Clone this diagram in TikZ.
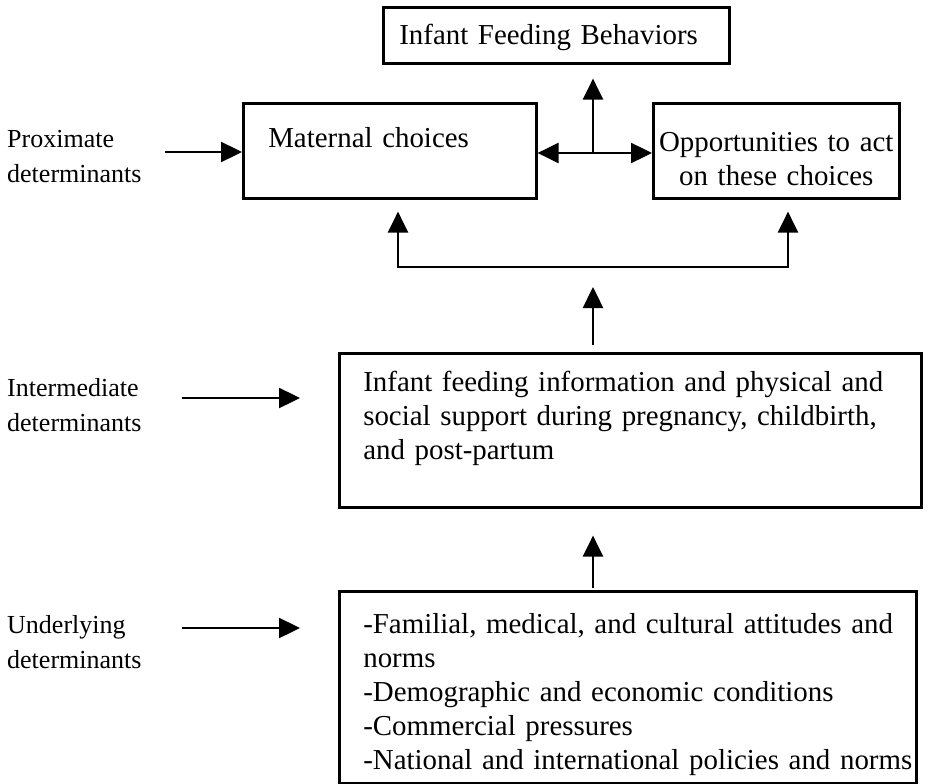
\documentclass[tikz,border=0pt]{standalone}
\usepackage{fontspec}
\setmainfont{Liberation Serif}
\usetikzlibrary{arrows.meta,positioning}
\tikzset{>={Triangle[length=21pt,width=20pt]}}
\tikzset{
  box/.style={draw, line width=2.6pt, anchor=north west, inner ysep=0pt,
    font=\fontsize{28.9pt}{34pt}\selectfont},
  level/.style={anchor=base west, inner sep=0pt, text width=160pt,
    align=left, font=\fontsize{26pt}{35pt}\selectfont},
  link/.style={line width=2.4pt}
}

\begin{document}
\begin{tikzpicture}[x=1pt,y=-1pt]
  \fill[white] (0,0) rectangle (948,784);
  \useasboundingbox (0,0) rectangle (948,784);

  % the boxes, top to bottom
  \node[box, inner xsep=16pt, text width=314pt, align=left,
    text height=37pt, text depth=19pt] (behaviors) at (382,6)
    {Infant Feeding Behaviors};
  \node[box, inner xsep=25pt, text width=243pt, align=left,
    text height=44pt, text depth=51pt] (choices) at (242,102)
    {Maternal choices};
  \node[box, inner xsep=0pt, text width=246pt, align=center,
    text height=48pt, text depth=47pt] (chances) at (652,102)
    {Opportunities to act\\on these choices};
  \node[box, inner xsep=24pt, text width=534pt, align=left,
    text height=38pt, text depth=116pt] (support) at (338,352)
    {\mbox{Infant feeding information and physical and}\\
     \makebox[552pt][s]{social support during pregnancy, childbirth,}\\
     and post-partum};
  \node[box, inner xsep=24pt, text width=529pt, align=left,
    text height=42pt, text depth=150pt] (context) at (338,590)
    {\mbox{-Familial, medical, and cultural attitudes and}\\
     norms\\
     \mbox{-Demographic and economic conditions}\\
     \mbox{-Commercial pressures}\\
     \mbox{-National and international policies and norms}};

  % level names on the left
  \node[level] (proximate) at (7,147) {Proximate\\determinants};
  \node[level] (intermediate) at (7,396) {Intermediate\\determinants};
  \node[level] (underlying) at (7,633) {Underlying\\determinants};

  \coordinate (proxTail) at (165,152);
  \coordinate (interTail) at (182,398);
  \coordinate (interTip) at (300,398);
  \coordinate (underTail) at (182,628);
  \coordinate (underTip) at (300,628);
  \draw[link,->] (proxTail) -- (proxTail -| choices.west);
  \draw[link,->] (interTail) -- (interTip);
  \draw[link,->] (underTail) -- (underTip);

  % choices <-> opportunities, and up to the behaviors
  \coordinate (hub) at (593,153);
  \draw[link,<->] (hub -| choices.east) -- (hub -| chances.west);
  \draw[link,->, shorten >=14pt] (hub) -- (hub |- behaviors.south);

  % bracket feeding both upper boxes
  \coordinate (brL) at (398,267);
  \coordinate (brR) at (788,267);
  \draw[link,<->, shorten <=12pt, shorten >=12pt]
    (brL |- choices.south) -- (brL) -- (brR) -- (brR |- chances.south);
  \draw[link,->, shorten <=7pt, shorten >=20pt]
    (hub |- support.north) -- (hub |- brL);
  \draw[link,->, shorten <=2pt, shorten >=27pt]
    (hub |- context.north) -- (hub |- support.south);
\end{tikzpicture}
\end{document}
